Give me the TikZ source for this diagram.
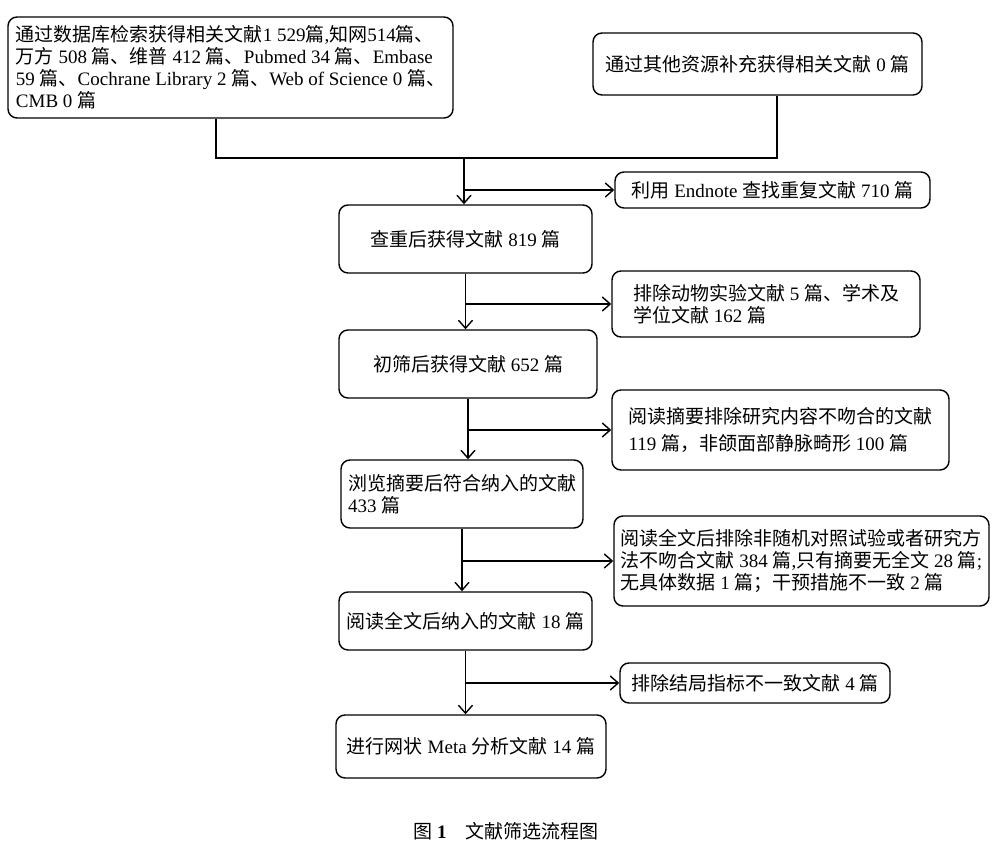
\documentclass[tikz,border=0pt]{standalone}
\usepackage{fontspec}
\setmainfont{Liberation Serif}
\newfontfamily\cjk{Noto Sans CJK SC}
\newfontfamily\latinfont{Liberation Serif}
\usetikzlibrary{arrows.meta,positioning,calc}

% switch to the CJK font for ideographs and CJK punctuation
\newXeTeXintercharclass\cjkclass
\makeatletter
\count@="3000
\loop\XeTeXcharclass\count@=\cjkclass\advance\count@ 1 \ifnum\count@<"3040 \repeat
\count@="4E00
\loop\XeTeXcharclass\count@=\cjkclass\advance\count@ 1 \ifnum\count@<"A000 \repeat
\count@="FF00
\loop\XeTeXcharclass\count@=\cjkclass\advance\count@ 1 \ifnum\count@<"FFF0 \repeat
\makeatother
\XeTeXinterchartoks 0 \cjkclass = {\cjk}
\XeTeXinterchartoks 4095 \cjkclass = {\cjk}
\XeTeXinterchartoks \cjkclass 0 = {\latinfont}
\XeTeXinterchartoks \cjkclass 4095 = {\latinfont}
\XeTeXinterchartokenstate=1

\begin{document}
\begin{tikzpicture}[
    x=1pt,y=-1pt,
    font=\fontsize{19}{22}\selectfont,
    box/.style={draw,rounded corners=9pt,line width=1.4pt,inner xsep=6pt,align=left},
    line/.style={line width=1.4pt},
    arrow/.style={-{Straight Barb[length=8pt,width=14pt]},line width=1.4pt}
]
    \useasboundingbox (0,0) rectangle (997,842);

    \node[box,minimum width=445pt,minimum height=101pt] (db) at (230.5,67.5) {通过数据库检索获得相关文献1 529篇,知网514篇、\\万方 508 篇、维普 412 篇、Pubmed 34 篇、Embase\\59 篇、Cochrane Library 2 篇、Web of Science 0 篇、\\CMB 0 篇};
    \node[box,minimum width=329pt,minimum height=62pt] (other) at (757.5,64) {通过其他资源补充获得相关文献 0 篇};

    \node[box,minimum width=315pt,minimum height=36pt] (endnote) at (772.5,190) {利用 Endnote 查找重复文献 710 篇};
    \node[box,minimum width=253pt,minimum height=68pt] (dedup) at (465.5,239) {查重后获得文献 819 篇};

    \node[box,minimum width=308pt,minimum height=66pt] (excl1) at (766,304) {排除动物实验文献 5 篇、学术及\\学位文献 162 篇};
    \node[box,minimum width=258pt,minimum height=68pt] (screen) at (468,364) {初筛后获得文献 652 篇};

    \node[box,minimum width=337pt,minimum height=80pt] (excl2) at (780.5,430) {阅读摘要排除研究内容不吻合的文献\\[5pt]119 篇，非颌面部静脉畸形 100 篇};
    \node[box,minimum width=242pt,minimum height=68pt] (abstr) at (462,494) {浏览摘要后符合纳入的文献\\433 篇};

    \node[box,minimum width=375pt,minimum height=90pt] (excl3) at (801.5,561) {阅读全文后排除非随机对照试验或者研究方\\法不吻合文献 384 篇,只有摘要无全文 28 篇;\\无具体数据 1 篇；干预措施不一致 2 篇};
    \node[box,minimum width=253pt,minimum height=58pt] (full) at (465.5,621) {阅读全文后纳入的文献 18 篇};

    \node[box,minimum width=270pt,minimum height=40pt] (excl4) at (755,683) {排除结局指标不一致文献 4 篇};
    \node[box,minimum width=270pt,minimum height=63pt] (meta) at (471,746.5) {进行网状 Meta 分析文献 14 篇};

    \node (cap) at (506,831) {图 {\bfseries 1}\quad 文献筛选流程图};

    % merge of the two sources
    \coordinate (j1) at (464,158);
    \draw[line] ([xshift=-14.5pt]db.south) |- (j1) -| ([xshift=19.5pt]other.south);
    \draw[arrow] (j1) -- (j1 |- dedup.north);
    \draw[arrow] (j1 |- endnote.west) -- (endnote.west);

    % main flow with exclusions
    \draw[arrow] (dedup.south) -- (dedup.south |- screen.north);
    \draw[arrow] (dedup.south |- excl1.west) -- (excl1.west);
    \draw[arrow] (screen.south) -- (screen.south |- abstr.north);
    \draw[arrow] (screen.south |- excl2.west) -- (excl2.west);
    \draw[arrow] (abstr.south) -- (abstr.south |- full.north);
    \draw[arrow] (abstr.south |- excl3.west) -- (excl3.west);
    \draw[arrow] (full.south) -- (full.south |- meta.north);
    \draw[arrow] (full.south |- excl4.west) -- (excl4.west);
\end{tikzpicture}
\end{document}
